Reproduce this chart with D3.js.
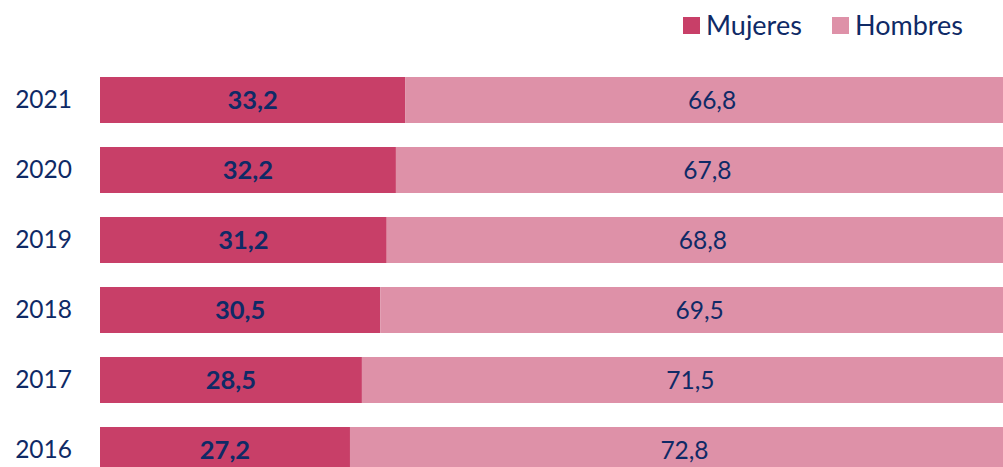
<!DOCTYPE html>
<html>
<head>
<meta charset="utf-8">
<script src="https://cdn.jsdelivr.net/npm/d3@7"></script>
<style>
  html, body { margin: 0; padding: 0; background: #fff; overflow: hidden; }
  svg { display: block; font-family: Lato, "Open Sans", sans-serif; }
</style>
</head>
<body>
<svg id="chart" width="1003" height="467"></svg>
<script>
const years = ["2021", "2020", "2019", "2018", "2017", "2016"];
const mujeres = [33.2, 32.2, 31.2, 30.5, 28.5, 27.2];
const hombres = [66.8, 67.8, 68.8, 69.5, 71.5, 72.8];
const seriesNames = ["Mujeres", "Hombres"];
const seriesColors = ["#c83f68", "#de91a8"];

const textColor = "#0f2a66";
const svg = d3.select("#chart");

const x = d3.scaleLinear().domain([0, 100]).range([100, 1019]);
const y = d3.scaleBand().domain(years).range([65, 485])
  .paddingInner(24 / 70).paddingOuter(12 / 70);

const rows = years.map((yr, i) => ({ year: yr, m: mujeres[i], h: hombres[i] }));
const fmt = v => v.toFixed(1).replace(".", ",");

const g = svg.append("g");
g.selectAll("rect.m").data(rows).join("rect")
  .attr("class", "m")
  .attr("x", x(0)).attr("y", d => y(d.year))
  .attr("width", d => x(d.m) - x(0)).attr("height", y.bandwidth())
  .attr("fill", seriesColors[0]);
g.selectAll("rect.h").data(rows).join("rect")
  .attr("class", "h")
  .attr("x", d => x(d.m)).attr("y", d => y(d.year))
  .attr("width", d => x(d.m + d.h) - x(d.m)).attr("height", y.bandwidth())
  .attr("fill", seriesColors[1]);

g.selectAll("text.ml").data(rows).join("text")
  .attr("class", "ml")
  .attr("x", d => (x(0) + x(d.m)) / 2).attr("y", d => y(d.year) + y.bandwidth() / 2)
  .attr("dy", "0.36em").attr("text-anchor", "middle")
  .attr("font-size", 25.5).attr("font-weight", "bold").attr("fill", textColor)
  .text(d => fmt(d.m));
g.selectAll("text.hl").data(rows).join("text")
  .attr("class", "hl")
  .attr("x", d => (x(d.m) + x(d.m + d.h)) / 2).attr("y", d => y(d.year) + y.bandwidth() / 2)
  .attr("dy", "0.36em").attr("text-anchor", "middle")
  .attr("font-size", 24.5).attr("fill", textColor)
  .text(d => fmt(d.h));

const yAxis = svg.append("g")
  .attr("transform", "translate(72,0)")
  .call(d3.axisLeft(y).tickSize(0).tickPadding(0));
yAxis.select(".domain").remove();
yAxis.selectAll("text").attr("font-size", 24.5).attr("fill", textColor)
  .attr("font-family", "Lato, 'Open Sans', sans-serif");

const legendX = [683, 832];
const leg = svg.append("g");
seriesNames.forEach((name, i) => {
  leg.append("rect").attr("x", legendX[i]).attr("y", 17).attr("width", 17).attr("height", 17)
    .attr("fill", seriesColors[i]);
  leg.append("text").attr("x", legendX[i] + 23).attr("y", 25.5).attr("dy", "0.36em")
    .attr("font-size", 27).attr("fill", textColor).text(name);
});
</script>
</body>
</html>
